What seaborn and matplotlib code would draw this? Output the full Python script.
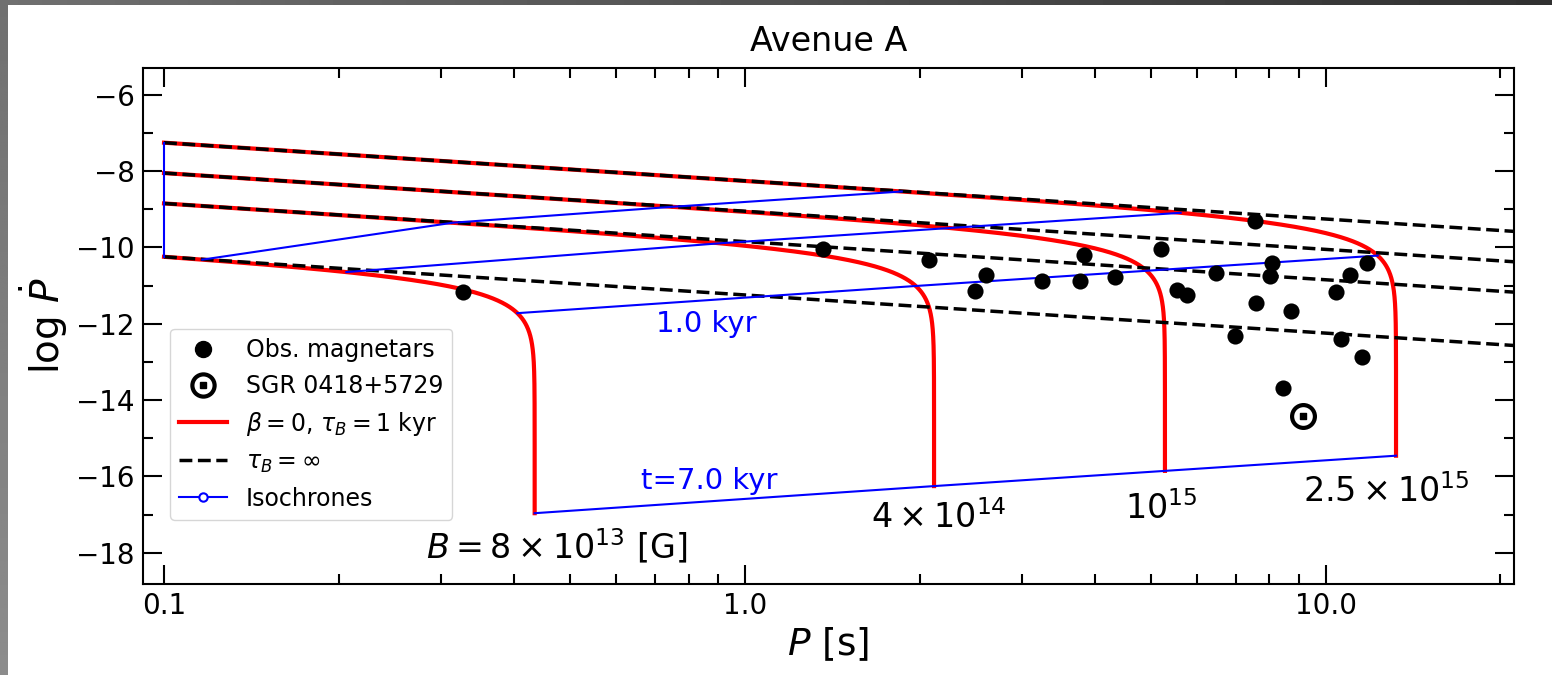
import numpy as np
import pandas as pd
import matplotlib
matplotlib.use("Agg")
import matplotlib.pyplot as plt
from matplotlib.lines import Line2D
from matplotlib.ticker import FixedLocator, FuncFormatter, MultipleLocator, LogLocator, NullFormatter
import seaborn as sns

# Observed magnetars: spin period P [s] and log10 of the period derivative
obs_P = [0.327, 1.364, 2.076, 3.833, 2.599, 2.486, 3.249, 3.773, 4.333,
         7.546, 5.214, 8.084, 8.031, 6.468, 5.548, 5.781, 7.576, 8.706,
         10.43, 11.03, 11.80, 6.99, 10.61, 11.55, 8.44]
obs_logPdot = [-11.16, -10.04, -10.34, -10.20, -10.72, -11.13, -10.87, -10.87, -10.78,
               -9.32, -10.05, -10.40, -10.75, -10.66, -11.11, -11.24, -11.45, -11.68,
               -11.16, -10.72, -10.41, -12.32, -12.41, -12.86, -13.69]

# SGR 0418+5729
sgr_P = [9.14]
sgr_logPdot = [-14.41]

# Initial dipole fields of the evolutionary tracks [G] and their labels
B0 = [8e13, 4e14, 1e15, 2.5e15]
B_labels = [r"$B = 8\times10^{13}$ [G]", r"$4\times10^{14}$", r"$10^{15}$",
            r"$2.5\times10^{15}$"]
B_label_P = [0.475, 2.16, 5.22, 12.7]
B_label_logPdot = [-17.82, -17.09, -16.85, -16.41]

# Model parameters
P_init = 0.1            # initial period [s]
tau_B_kyr = 1.0         # field decay time (beta = 0: exponential decay)
t_end_kyr = 7.0         # end of the tracks
iso_t_kyr = [0.0, 0.01, 0.1, 1.0, 7.0]   # isochrone ages
B_coef = 3.36e19        # B = B_coef * sqrt(P * Pdot)
KYR = 3.156e10          # seconds per kyr

k_dip = 1.0 / B_coef**2
tau_s = tau_B_kyr * KYR


def spin_state(b0, t_kyr):
    """Period and log Pdot for dipole spin-down with exponentially decaying field."""
    t = np.asarray(t_kyr, dtype=float) * KYR
    decay2 = np.exp(-2.0 * t / tau_s)
    P = np.sqrt(P_init**2 + k_dip * b0**2 * tau_s * (1.0 - decay2))
    Pdot = k_dip * b0**2 * decay2 / P
    return P, np.log10(Pdot)


fig = plt.figure(figsize=(15.52, 6.75), dpi=100)
ax = fig.add_axes([143 / 1552, 1 - 584 / 675, (1514 - 143) / 1552, (584 - 68) / 675])
ax.set_xscale("log")

t_track = np.concatenate([[0.0], np.logspace(-5, np.log10(t_end_kyr), 2500)])
P_line = np.logspace(np.log10(P_init), np.log10(30.0), 300)

# Tracks with field decay (red) and constant field (black dashed)
for b0 in B0:
    P, lpd = spin_state(b0, t_track)
    sns.lineplot(x=P, y=lpd, sort=False, estimator=None, color="#ff0000",
                 linewidth=3.0, ax=ax, zorder=2)
for b0 in B0:
    lpd_const = np.log10(k_dip * b0**2 / P_line)
    sns.lineplot(x=P_line, y=lpd_const, sort=False, estimator=None, color="black",
                 linewidth=2.5, linestyle="--", ax=ax, zorder=3)

# Isochrones connecting the tracks at equal age
for t in iso_t_kyr:
    pts = [spin_state(b0, t) for b0 in B0]
    iso = pd.DataFrame({"P": [float(p[0]) for p in pts],
                        "logPdot": [float(p[1]) for p in pts]})
    sns.lineplot(data=iso, x="P", y="logPdot", sort=False, estimator=None,
                 color="#0000ff", linewidth=1.5, ax=ax, zorder=4)

# Observed sources
sns.scatterplot(x=obs_P, y=obs_logPdot, color="black", s=135, linewidth=0,
                ax=ax, zorder=6)
ax.scatter(sgr_P, sgr_logPdot, s=270, facecolor="white", edgecolor="black",
           linewidths=3.0, zorder=6)
ax.scatter(sgr_P, sgr_logPdot, s=20, marker="s", color="black", zorder=7)

# Labels
for txt, px, py in zip(B_labels, B_label_P, B_label_logPdot):
    ax.text(px, py, txt, ha="center", va="center", fontsize=24, zorder=8)
ax.text(0.86, -12.0, "1.0 kyr", color="#0000ff", ha="center", va="center", fontsize=21)
ax.text(0.867, -16.12, "t=7.0 kyr", color="#0000ff", ha="center", va="center", fontsize=21)

ax.set_xlim(0.092, 21.1)
ax.set_ylim(-18.82, -5.3)

ax.xaxis.set_major_locator(FixedLocator([0.1, 1.0, 10.0]))
ax.xaxis.set_major_formatter(FuncFormatter(lambda v, _: f"{v:.1f}"))
ax.xaxis.set_minor_locator(LogLocator(base=10, subs=np.arange(2, 10)))
ax.xaxis.set_minor_formatter(NullFormatter())
ax.yaxis.set_major_locator(MultipleLocator(2))
ax.yaxis.set_minor_locator(MultipleLocator(1))
ax.yaxis.set_major_formatter(FuncFormatter(lambda v, _: f"\u2212{abs(v):.0f}" if v < 0 else f"{v:.0f}"))

ax.tick_params(which="both", direction="in", top=True, right=True, width=1.5,
               labelsize=20, pad=6)
ax.tick_params(which="major", length=14)
ax.tick_params(which="minor", length=7)
for sp in ax.spines.values():
    sp.set_linewidth(1.5)

ax.set_xlabel(r"$P$ [s]", fontsize=27)
ax.set_ylabel(r"log $\dot{P}$", fontsize=28)
ax.set_title("Avenue A", fontsize=24, pad=12)

handles = [
    Line2D([], [], linestyle="none", marker="o", markersize=11.5, color="black"),
    (Line2D([], [], linestyle="none", marker="o", markersize=16, markerfacecolor="white",
            markeredgecolor="black", markeredgewidth=3.0),
     Line2D([], [], linestyle="none", marker="s", markersize=4.5, color="black")),
    Line2D([], [], color="#ff0000", linewidth=3.0),
    Line2D([], [], color="black", linewidth=2.5, linestyle="--"),
    Line2D([], [], color="#0000ff", linewidth=1.5, marker="o", markersize=6,
           markerfacecolor="white", markeredgecolor="#0000ff", markeredgewidth=1.5),
]
labels = ["Obs. magnetars", "SGR 0418+5729", r"$\beta=0$, $\tau_B=1$ kyr",
          r"$\tau_B=\infty$", "Isochrones"]
ax.legend(handles, labels, loc="lower left", bbox_to_anchor=(0.0197, 0.124),
          borderaxespad=0, fontsize=17)

# Dark frame strips along the top and left edges
top = fig.add_axes([0, 1 - 5 / 675, 1, 5 / 675])
top.imshow(np.linspace(0.44, 0.19, 256)[None, :], cmap="gray", vmin=0, vmax=1,
           aspect="auto", extent=[0, 1, 0, 1])
top.set_axis_off()
left = fig.add_axes([0, 0, 8 / 1552, 1 - 5 / 675])
left.imshow(np.linspace(0.44, 0.55, 256)[:, None], cmap="gray", vmin=0, vmax=1,
            aspect="auto", extent=[0, 1, 0, 1], origin="upper")
left.set_axis_off()

fig.savefig("out.png", dpi=100)
